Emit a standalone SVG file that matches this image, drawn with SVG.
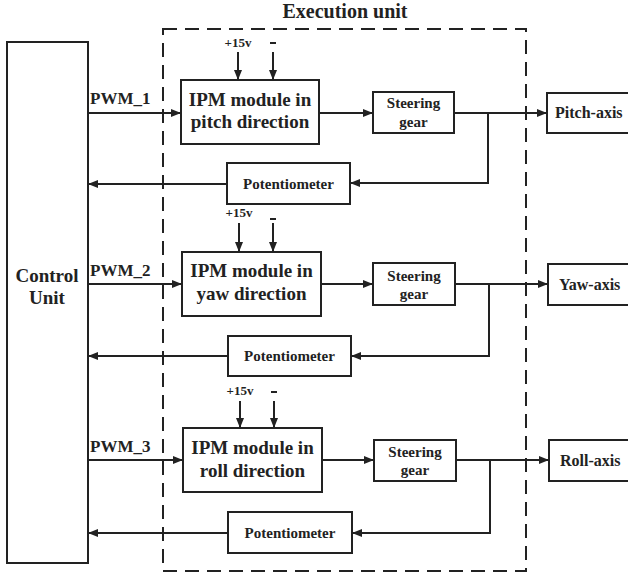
<svg xmlns="http://www.w3.org/2000/svg" width="628" height="574" viewBox="0 0 628 574">
<style>
.b{fill:#fff;stroke:#222;stroke-width:2}
.l{fill:none;stroke:#222;stroke-width:2}
.t{font-family:"Liberation Serif",serif;font-weight:bold;fill:#222}
.big{font-size:19px;text-anchor:middle}
.mid{font-size:15px;text-anchor:middle}
.pwm{font-size:17px}
.v{font-size:13px;text-anchor:middle}
.ax{font-size:16px}
</style>
<defs>
<marker id="ah" markerWidth="10" markerHeight="8" refX="10" refY="4" orient="auto" markerUnits="userSpaceOnUse">
<path d="M0,0 L10,4 L0,8 z" fill="#222"/>
</marker>
</defs>
<rect width="628" height="574" fill="#fff"/>
<g id="execution-unit">
<rect x="163" y="29" width="363" height="542" fill="none" stroke="#222" stroke-width="2" stroke-dasharray="14,8"/>
<text class="t" x="345" y="18" font-size="20" text-anchor="middle">Execution unit</text>
</g>
<g id="control-unit">
<rect class="b" x="7" y="42" width="81" height="521"/>
<text class="t big" x="47" y="282">Control</text>
<text class="t big" x="47" y="304">Unit</text>
</g>
<g id="ipm1"><rect class="b" x="181" y="80" width="138" height="64"/><text class="t big" x="250" y="106">IPM module in</text><text class="t big" x="250" y="128">pitch direction</text></g>
<g id="ipm2"><rect class="b" x="182" y="252" width="139" height="64"/><text class="t big" x="251.5" y="277">IPM module in</text><text class="t big" x="251.5" y="300">yaw direction</text></g>
<g id="ipm3"><rect class="b" x="183" y="428" width="139" height="64"/><text class="t big" x="252.5" y="454">IPM module in</text><text class="t big" x="252.5" y="477">roll direction</text></g>
<g id="steer1"><rect class="b" x="373" y="92" width="81" height="41"/><text class="t mid" x="413.5" y="108">Steering</text><text class="t mid" x="413.5" y="127">gear</text></g>
<g id="steer2"><rect class="b" x="373" y="263" width="82" height="42"/><text class="t mid" x="414" y="281">Steering</text><text class="t mid" x="414" y="299">gear</text></g>
<g id="steer3"><rect class="b" x="374" y="440" width="82" height="41"/><text class="t mid" x="415" y="457">Steering</text><text class="t mid" x="415" y="475">gear</text></g>
<g id="pot1"><rect class="b" x="227" y="163" width="123" height="41"/><text class="t mid" x="288.5" y="189">Potentiometer</text></g>
<g id="pot2"><rect class="b" x="228" y="336" width="123" height="40"/><text class="t mid" x="289.5" y="361">Potentiometer</text></g>
<g id="pot3"><rect class="b" x="228" y="512" width="124" height="41"/><text class="t mid" x="290" y="538">Potentiometer</text></g>
<g id="pitch-axis"><rect class="b" x="547" y="93" width="90" height="40"/><text class="t ax" x="555" y="118">Pitch-axis</text></g>
<g id="yaw-axis"><rect class="b" x="548" y="264" width="90" height="41"/><text class="t ax" x="559" y="290">Yaw-axis</text></g>
<g id="roll-axis"><rect class="b" x="549" y="440" width="90" height="41"/><text class="t ax" x="560" y="466">Roll-axis</text></g>
<g id="labels">
<text class="t pwm" x="90" y="104">PWM_1</text>
<text class="t pwm" x="90" y="276">PWM_2</text>
<text class="t pwm" x="90" y="452">PWM_3</text>
<text class="t v" x="238" y="47">+15v</text>
<text class="t v" x="239" y="217">+15v</text>
<text class="t v" x="240" y="395">+15v</text>
<line class="l" x1="270" y1="43" x2="276" y2="43"/>
<line class="l" x1="270" y1="219" x2="276" y2="219"/>
<line class="l" x1="271" y1="392" x2="277" y2="392"/>
</g>
<g id="connectors" class="l">
<line x1="238" y1="52" x2="238" y2="80" marker-end="url(#ah)"/>
<line x1="273" y1="52" x2="273" y2="80" marker-end="url(#ah)"/>
<line x1="88" y1="113" x2="181" y2="113" marker-end="url(#ah)"/>
<line x1="319" y1="113" x2="373" y2="113" marker-end="url(#ah)"/>
<line x1="454" y1="113" x2="547" y2="113" marker-end="url(#ah)"/>
<polyline points="488,113 488,183 350,183" marker-end="url(#ah)"/>
<line x1="227" y1="184" x2="88" y2="184" marker-end="url(#ah)"/>

<line x1="239" y1="223" x2="239" y2="252" marker-end="url(#ah)"/>
<line x1="273" y1="223" x2="273" y2="252" marker-end="url(#ah)"/>
<line x1="88" y1="284" x2="182" y2="284" marker-end="url(#ah)"/>
<line x1="321" y1="284" x2="373" y2="284" marker-end="url(#ah)"/>
<line x1="455" y1="284" x2="548" y2="284" marker-end="url(#ah)"/>
<polyline points="489,284 489,356 351,356" marker-end="url(#ah)"/>
<line x1="228" y1="356" x2="88" y2="356" marker-end="url(#ah)"/>

<line x1="240" y1="401" x2="240" y2="428" marker-end="url(#ah)"/>
<line x1="274" y1="401" x2="274" y2="428" marker-end="url(#ah)"/>
<line x1="88" y1="460" x2="183" y2="460" marker-end="url(#ah)"/>
<line x1="322" y1="460" x2="374" y2="460" marker-end="url(#ah)"/>
<line x1="456" y1="460" x2="549" y2="460" marker-end="url(#ah)"/>
<polyline points="490,460 490,533 352,533" marker-end="url(#ah)"/>
<line x1="228" y1="533" x2="88" y2="533" marker-end="url(#ah)"/>
</g>
</svg>
